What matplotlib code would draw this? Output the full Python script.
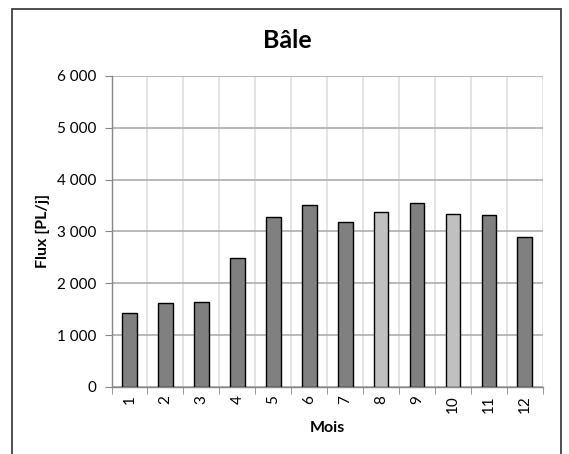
import matplotlib
matplotlib.use("Agg")
import matplotlib.pyplot as plt
from matplotlib.ticker import FuncFormatter, FixedLocator
from matplotlib.patches import Rectangle

# data
mois = [1, 2, 3, 4, 5, 6, 7, 8, 9, 10, 11, 12]
flux = [1430, 1625, 1640, 2485, 3270, 3510, 3175, 3380, 3540, 3345, 3325, 2900]
mois_clairs = [8, 10]  # lighter bars

plt.rcParams['font.family'] = ['Lato', 'DejaVu Sans']

fig = plt.figure(figsize=(5.69, 4.54), dpi=100)
ax = fig.add_axes([0.196, 0.1476, 0.758, 0.6854])

colors = ['#c0c0c0' if m in mois_clairs else '#808080' for m in mois]
ax.bar(mois, flux, width=0.41, color=colors, edgecolor='black', linewidth=1.0, zorder=3)

ax.set_xlim(0.5, 12.5)
ax.set_ylim(0, 6000)
ax.set_yticks(range(0, 6001, 1000))
ax.yaxis.set_major_formatter(FuncFormatter(lambda v, p: f"{int(v):,}".replace(",", " ")))

ax.set_xticks(mois)
ax.set_xticklabels([str(m) for m in mois], rotation=90)
ax.xaxis.set_minor_locator(FixedLocator([m - 0.5 for m in mois] + [12.5]))
ax.tick_params(axis='x', which='major', length=0, pad=6, labelsize=11)
ax.tick_params(axis='x', which='minor', length=5, color='#868686', direction='out')
ax.tick_params(axis='y', length=5, color='#868686', labelsize=11, pad=6)

ax.grid(axis='y', color='#b3b3b3', linewidth=1.3, zorder=0)
ax.grid(axis='x', which='minor', color='#dcdcdc', linewidth=1.1, zorder=0)
ax.set_axisbelow(True)

for s in ['top', 'right']:
    ax.spines[s].set_visible(False)
for s in ['left', 'bottom']:
    ax.spines[s].set_color('#868686')
    ax.spines[s].set_linewidth(1.0)

fig.text(287 / 569, 1 - 41 / 454, "Bâle", fontsize=18, fontweight='bold',
         ha='center', va='center')
ax.set_xlabel("Mois", fontsize=11.5, fontweight='bold', labelpad=6)
ax.set_ylabel("Flux [PL/j]", fontsize=11.5, fontweight='bold', labelpad=5)

# chart border
fig.patches.append(Rectangle((12 / 569, -0.05), (561 - 12) / 569, 1 - 8.5 / 454 + 0.05,
                             transform=fig.transFigure, fill=False,
                             edgecolor='#404040', linewidth=1.3))

fig.savefig("out.png", dpi=100)
